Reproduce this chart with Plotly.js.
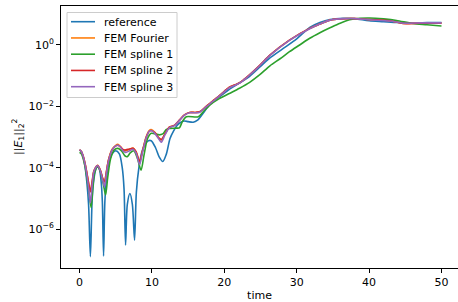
<!DOCTYPE html>
<html>
<head>
<meta charset="utf-8">
<script src="https://cdn.plot.ly/plotly-3.0.1.min.js"></script>
<style>html,body{margin:0;padding:0;background:#fff;overflow:hidden}#chart{width:458px;height:302px}</style>
</head>
<body>
<div id="chart"></div>
<script>
// Series names
const seriesNames = ["reference", "FEM Fourier", "FEM spline 1", "FEM spline 2", "FEM spline 3"];
const colors = ["#1f77b4", "#ff7f0e", "#2ca02c", "#d62728", "#9467bd"];

// Values, stored as log10(||E1||^2)
const refT = [0,0.25,0.5,0.75,1.0,1.25,1.5,1.75,2.0,2.25,2.5,2.75,3.0,3.15,3.32,3.5,3.75,4.0,4.5,5.0,5.5,5.9,6.15,6.36,6.6,6.96,7.3,7.6,7.85,8.2,8.6,9.0,9.5,9.9,10.5,11.0,11.5,12.0,12.5,13.0,13.5,14.0,14.5,15.0,15.7,16.3,17,18,19,20,21,22,23.5,25,26.3,28.1,30,31.8,33.2,34.6,36.4,38,40,42,44,46.6,48,50];
const refLog = [-3.42,-3.48,-3.65,-3.95,-4.45,-5.2,-6.9,-5.0,-4.35,-4.05,-3.97,-4.05,-4.5,-5.1,-6.88,-5.1,-4.3,-3.9,-3.55,-3.45,-3.55,-4.0,-4.7,-6.52,-5.2,-4.84,-5.2,-6.36,-4.8,-4.0,-3.5,-3.25,-3.12,-3.12,-3.35,-3.65,-3.8,-3.55,-3.05,-2.8,-2.62,-2.52,-2.48,-2.5,-2.52,-2.45,-2.25,-1.93,-1.75,-1.57,-1.40,-1.25,-1.02,-0.70,-0.42,-0.12,0.2,0.57,0.73,0.83,0.87,0.86,0.79,0.76,0.73,0.71,0.73,0.73];

const femT = [0,0.25,0.5,0.75,1.0,1.25,1.5,1.75,2.0,2.5,2.9,3.2,3.45,3.7,4.0,4.5,5.0,5.3,5.7,6.0,6.4,6.9,7.4,7.8,8.3,8.7,9.2,9.6,9.9,10.4,11.0,11.3,11.8,12.4,13.1,13.8,14.5,15.2,16.0,16.6,17.5,18.4,19.5,20.7,21.5,22.2,23.0,24.9,26.3,29,31.8,33.2,34.6,36,38,40.1,42.9,44.7,47,50];
const fourierLog = [-3.42,-3.47,-3.62,-3.85,-4.15,-4.5,-4.78,-4.45,-4.1,-3.92,-4.1,-4.35,-4.46,-4.15,-3.75,-3.4,-3.27,-3.24,-3.33,-3.42,-3.45,-3.40,-3.36,-3.48,-3.80,-3.45,-3.0,-2.80,-2.76,-2.85,-3.05,-3.1,-2.9,-2.68,-2.62,-2.45,-2.28,-2.2,-2.2,-2.18,-2.0,-1.83,-1.62,-1.38,-1.3,-1.22,-1.07,-0.66,-0.33,0.16,0.54,0.68,0.81,0.85,0.86,0.83,0.79,0.70,0.72,0.71];
const spline2Log = [-3.42,-3.47,-3.62,-3.85,-4.15,-4.5,-4.78,-4.45,-4.1,-3.93,-4.1,-4.35,-4.46,-4.15,-3.76,-3.42,-3.29,-3.27,-3.33,-3.41,-3.42,-3.39,-3.37,-3.48,-3.80,-3.46,-3.02,-2.82,-2.79,-2.86,-3.04,-3.08,-2.9,-2.68,-2.62,-2.45,-2.28,-2.2,-2.2,-2.18,-2.0,-1.83,-1.62,-1.38,-1.3,-1.22,-1.07,-0.66,-0.33,0.16,0.54,0.68,0.81,0.85,0.86,0.83,0.79,0.70,0.71,0.71];
const spline3Log = [-3.42,-3.47,-3.63,-3.87,-4.2,-4.65,-5.15,-4.55,-4.12,-3.93,-4.12,-4.4,-4.62,-4.2,-3.78,-3.42,-3.29,-3.27,-3.34,-3.45,-3.5,-3.45,-3.4,-3.52,-3.9,-3.5,-3.03,-2.82,-2.79,-2.88,-3.08,-3.17,-2.93,-2.7,-2.63,-2.46,-2.29,-2.21,-2.21,-2.19,-2.01,-1.84,-1.63,-1.39,-1.31,-1.23,-1.08,-0.67,-0.34,0.15,0.53,0.68,0.81,0.85,0.86,0.82,0.78,0.71,0.72,0.72];

const spline1T = [0,0.25,0.5,0.75,1.0,1.3,1.6,1.85,2.1,2.5,2.9,3.3,3.6,3.9,4.3,4.8,5.3,5.8,6.3,6.6,7.0,7.5,8.0,8.5,8.9,9.4,9.9,10.5,11.0,11.5,12.0,12.5,13.4,13.8,14.2,14.75,16.4,17,18,19.3,20.7,22.1,23.5,24.9,26.3,27.7,29,30.4,31.8,33.2,34.6,36,37.3,38.7,40.1,42,43.8,46,48,50];
const spline1Log = [-3.5,-3.55,-3.7,-3.95,-4.3,-4.8,-5.3,-4.6,-4.15,-3.97,-4.15,-4.55,-4.89,-4.3,-3.7,-3.42,-3.37,-3.45,-3.62,-3.64,-3.52,-3.45,-3.7,-4.08,-3.6,-3.05,-2.88,-2.9,-2.93,-2.9,-2.75,-2.72,-2.71,-2.7,-2.5,-2.34,-2.34,-2.2,-1.96,-1.75,-1.58,-1.41,-1.22,-0.97,-0.68,-0.45,-0.22,0.0,0.22,0.40,0.56,0.71,0.82,0.87,0.88,0.85,0.80,0.70,0.66,0.62];

// Tick labels
const xTicks = [0, 10, 20, 30, 40, 50];
const yTickVals = [1e-6, 1e-4, 1e-2, 1];
const yTickText = ["10<sup>−6</sup>", "10<sup>−4</sup>", "10<sup>−2</sup>", "10<sup>0</sup>"];

const toVal = a => a.map(v => Math.pow(10, v));
const tArrays = [refT, femT, spline1T, femT, femT];
const yArrays = [refLog, fourierLog, spline1Log, spline2Log, spline3Log];

const traces = seriesNames.map((name, i) => ({
  x: tArrays[i],
  y: toVal(yArrays[i]),
  name: name,
  type: "scatter",
  mode: "lines",
  showlegend: false,
  line: {color: colors[i], width: 1.6, shape: "spline", smoothing: 0.8}
}));

const font = {family: "DejaVu Sans", size: 11, color: "#000"};

// Plot-area geometry (pixels) used to place the legend box in paper coords
const W = 458, H = 302, M = {l: 61, r: 0, t: 6, b: 34};
const pw = W - M.l - M.r, ph = H - M.t - M.b;
const px = v => (v - M.l) / pw;
const py = v => 1 - (v - M.t) / ph;

const legBox = {x0: 67, x1: 177, y0: 12.5, y1: 97.5};
const legRowY0 = 21.7, legRowStep = 16.25;
const shapes = [{
  type: "rect", xref: "paper", yref: "paper",
  x0: px(legBox.x0), x1: px(legBox.x1), y0: py(legBox.y1), y1: py(legBox.y0),
  line: {color: "#cccccc", width: 1}, fillcolor: "rgba(255,255,255,0.8)", layer: "above"
}];
const annotations = [{
  text: "||<i>E</i><sub>1</sub>||<sub>2</sub><sup>2</sup>",
  xref: "paper", yref: "paper",
  x: px(18), y: 0.5, xanchor: "center", yanchor: "middle",
  textangle: -90, showarrow: false, font: font
}];
seriesNames.forEach((name, i) => {
  const yy = legRowY0 + i * legRowStep;
  shapes.push({
    type: "line", xref: "paper", yref: "paper",
    x0: px(71), x1: px(95), y0: py(yy), y1: py(yy),
    line: {color: colors[i], width: 1.6}, layer: "above"
  });
  annotations.push({
    text: name, xref: "paper", yref: "paper",
    x: px(101.5), y: py(yy + 0.5), xanchor: "left", yanchor: "middle",
    showarrow: false, font: font
  });
});

const layout = {
  width: W, height: H,
  margin: M,
  paper_bgcolor: "#fff", plot_bgcolor: "#fff",
  font: font,
  showlegend: false,
  xaxis: {
    range: [-2.56, 52.28],
    tickvals: xTicks,
    ticks: "outside", ticklen: 4, tickwidth: 1, tickcolor: "#000",
    showline: true, mirror: true, linecolor: "#000", linewidth: 1,
    showgrid: false, zeroline: false,
    title: {text: "time", font: font, standoff: 3}
  },
  yaxis: {
    type: "log",
    range: [-7.27, 1.27],
    tickvals: yTickVals, ticktext: yTickText,
    ticks: "outside", ticklen: 4, tickwidth: 1, tickcolor: "#000",
    showline: true, mirror: false, linecolor: "#000", linewidth: 1,
    showgrid: false, zeroline: false
  },
  shapes: shapes,
  annotations: annotations
};

Plotly.newPlot("chart", traces, layout, {staticPlot: true, displayModeBar: false});
</script>
</body>
</html>
